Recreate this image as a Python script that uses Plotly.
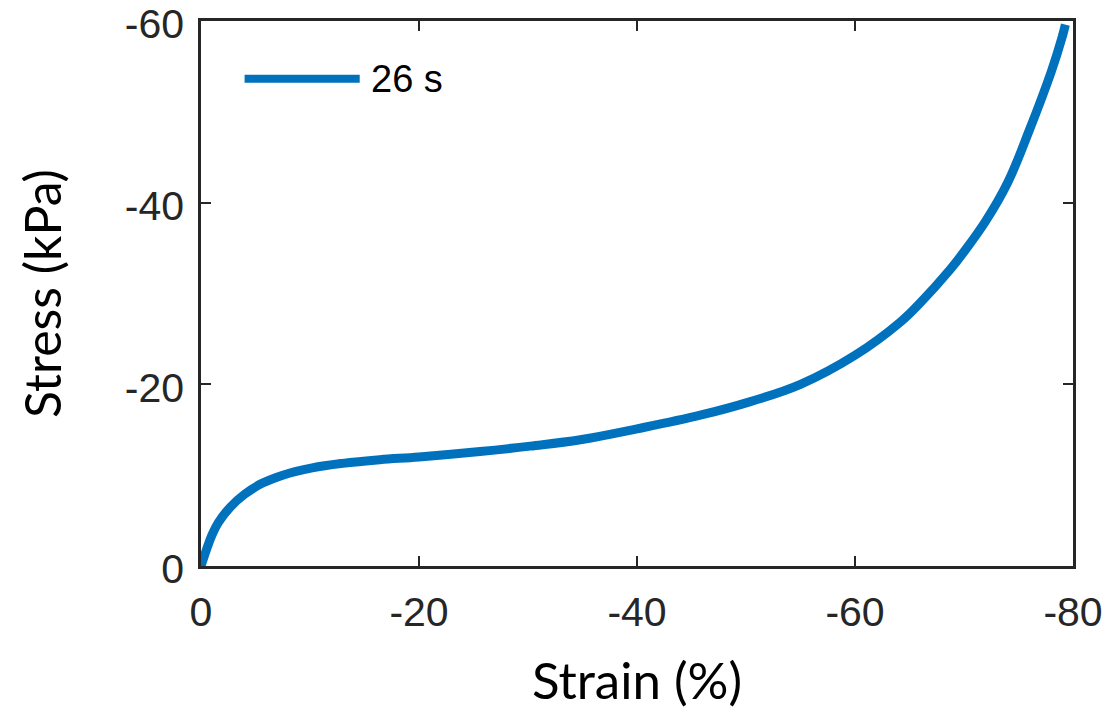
import plotly.graph_objects as go

strain = [0, -0.5, -1.0, -1.6, -2.7, -4.0, -5.6, -7.5, -10.2, -13.0, -16.4, -20.0, -25.6, -30.2, -34.8, -40.0,
          -45.8, -50.4, -55.0, -60.0, -64.1, -66.0, -68.7, -70.0, -72.0, -74.0, -76.0, -78.0, -79.0, -79.3]
stress = [0, -1.8, -3.4, -4.8, -6.5, -7.9, -9.1, -10.0, -10.8, -11.3, -11.7, -12.0, -12.6, -13.2, -13.9, -15.1,
          -16.6, -18.1, -20.0, -23.2, -26.8, -29.0, -32.6, -34.6, -38.0, -42.2, -48.0, -54.4, -58.2, -59.6]

series_name = "26 s"
x_ticks = [0, -20, -40, -60, -80]
y_ticks = [0, -20, -40, -60]
color = "#0072BD"
axis_color = "#262626"

fig = go.Figure()
fig.add_trace(go.Scatter(x=strain, y=stress, mode="lines", name=series_name,
                         line=dict(color=color, width=9, shape="spline", smoothing=1.1),
                         showlegend=False))

# legend replica
fig.add_shape(type="line", xref="paper", yref="paper", x0=0.05, x1=0.182, y0=0.894, y1=0.894,
              line=dict(color=color, width=8))
fig.add_annotation(xref="paper", yref="paper", x=0.193, y=0.894, text=series_name, showarrow=False,
                   xanchor="left", yanchor="middle",
                   font=dict(family="Liberation Sans, Arial", size=38, color="black"))

axis_common = dict(showgrid=False, zeroline=False, showline=True, linecolor=axis_color, linewidth=2.5,
                   mirror="ticks", ticks="inside", ticklen=10, tickwidth=2, tickcolor=axis_color,
                   automargin=False, ticklabeloverflow="allow",
                   tickfont=dict(family="Liberation Sans, Arial", size=41, color=axis_color))

fig.update_xaxes(range=[0, -80], tickvals=x_ticks, ticktext=[str(v) for v in x_ticks],
                 title=dict(text="Strain (%)", font=dict(family="Lato", size=51, color="black"), standoff=33),
                 ticklabelstandoff=8, **axis_common)
fig.update_yaxes(range=[0, -60], tickvals=y_ticks, ticktext=[str(v) for v in y_ticks],
                 title=dict(text="Stress (kPa)", font=dict(family="Lato", size=50, color="black"), standoff=48),
                 ticklabelstandoff=6, ticklabelshift=-3, **axis_common)

fig.update_layout(width=1111, height=710, margin=dict(l=201, r=38, t=21, b=144),
                  plot_bgcolor="white", paper_bgcolor="white")

fig.write_html("out.html", config={"displayModeBar": False},
               post_script="document.body.style.margin='0';")
